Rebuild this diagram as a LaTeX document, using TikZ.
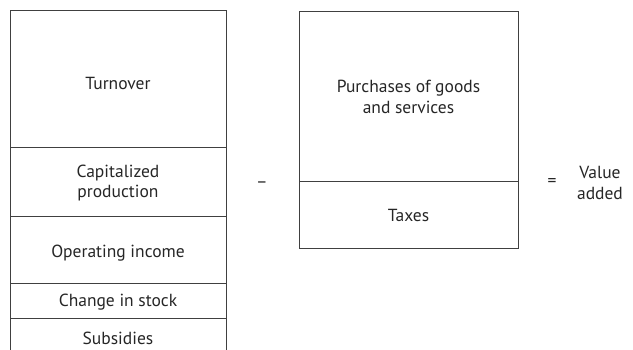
\documentclass[tikz,border=0pt]{standalone}
\usepackage{fontspec}
\setmainfont{PT Sans}
\begin{document}
\begin{tikzpicture}[x=1pt,y=-1pt,
  lbl/.style={font=\fontsize{17.5}{20.5}\selectfont, align=center, text=black!85, inner sep=0pt},
  frame/.style={draw=black!75, line width=1pt}]
\useasboundingbox (0,0) rectangle (633,350);
% left column
\draw[frame] (10,350) -- (10,11) -- (226,11) -- (226,350);
\draw[frame] (10,148) -- (226,148);
\draw[frame] (10,217) -- (226,217);
\draw[frame] (10,284) -- (226,284);
\draw[frame] (10,319) -- (226,319);
\node[lbl] (turn) at (118,83) {Turnover};
\node[lbl] (cap) at (118,183) {Capitalized\\production};
\node[lbl] (op) at (118,253) {Operating income};
\node[lbl] (chg) at (118,302) {Change in stock};
\node[lbl] (sub) at (118,338) {Subsidies};
% right box
\draw[frame] (299,12) rectangle (518,249);
\draw[frame] (299,182) -- (518,182);
\node[lbl] (pur) at (408.5,97) {Purchases of goods\\and services};
\node[lbl] (tax) at (408.5,215) {Taxes};
% operators
\node[lbl] (minus) at (262,185) {–};
\node[lbl] (eq) at (552,183) {=};
\node[lbl] (va) at (600,183) {Value\\added};
\end{tikzpicture}
\end{document}
